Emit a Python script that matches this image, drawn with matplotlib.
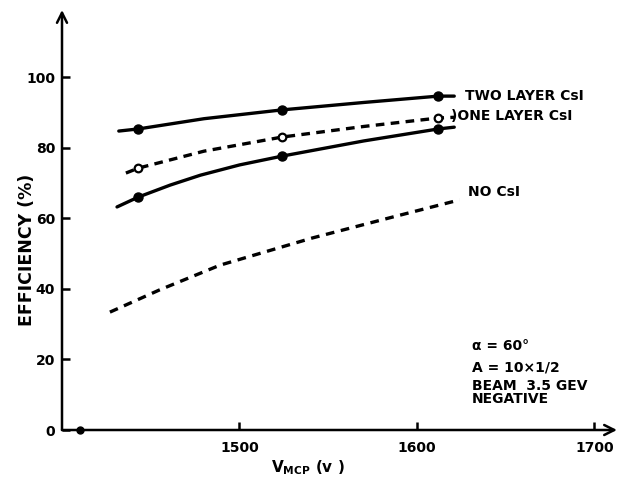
import matplotlib
matplotlib.use("Agg")
import matplotlib.pyplot as plt

# ---- data ----
two_layer_x = [1432, 1443, 1480, 1524, 1570, 1612, 1621]
two_layer_y = [84.7, 85.3, 88.2, 90.7, 92.8, 94.6, 94.6]
two_layer_pts_x = [1443, 1524, 1612]
two_layer_pts_y = [85.3, 90.7, 94.6]

one_layer_x = [1436, 1443, 1480, 1524, 1570, 1612, 1621]
one_layer_y = [72.8, 74.2, 79.0, 83.0, 86.0, 88.4, 88.6]
one_layer_pts_x = [1443, 1524, 1612]
one_layer_pts_y = [74.2, 83.0, 88.4]

third_x = [1431, 1443, 1461, 1478, 1500, 1524, 1570, 1612, 1621]
third_y = [63.2, 66.0, 69.4, 72.2, 75.1, 77.6, 81.9, 85.3, 85.8]
third_pts_x = [1443, 1524, 1612]
third_pts_y = [66.0, 77.6, 85.3]

no_csi_x = [1427, 1455, 1489, 1541, 1586, 1624]
no_csi_y = [33.4, 39.7, 46.7, 54.4, 60.3, 65.2]

x_ticks = [1500, 1600, 1700]
y_ticks = [0, 20, 40, 60, 80, 100]

FONT = dict(family="DejaVu Sans", weight="bold")

fig = plt.figure(figsize=(6.21, 4.83), dpi=100)
W, H = 621, 483
ax = fig.add_axes([62 / W, (H - 430) / H, (617 - 62) / W, (430 - 10) / H])
ax.set_xlim(1400, 1712.7)
ax.set_ylim(0, 119)
for s in ax.spines.values():
    s.set_visible(False)

# axes with arrows
ax.annotate("", xy=(1, 0), xytext=(0, 0), xycoords="axes fraction",
            arrowprops=dict(arrowstyle="->", lw=1.8, color="black",
                            mutation_scale=18, shrinkA=0, shrinkB=0))
ax.annotate("", xy=(0, 1), xytext=(0, 0), xycoords="axes fraction",
            arrowprops=dict(arrowstyle="->", lw=1.8, color="black",
                            mutation_scale=18, shrinkA=0, shrinkB=0))

ax.set_xticks(x_ticks)
ax.set_xticklabels([str(v) for v in x_ticks], fontsize=10, **FONT)
ax.set_yticks(y_ticks)
ax.set_yticklabels([str(v) for v in y_ticks], fontsize=10, **FONT)
ax.tick_params(axis="both", direction="in", length=6, width=1.8, color="black")
ax.tick_params(axis="x", pad=8)
ax.tick_params(axis="y", pad=5)

lw = 2.4
ax.plot(two_layer_x, two_layer_y, color="black", lw=lw, solid_capstyle="round")
ax.plot(two_layer_pts_x, two_layer_pts_y, "o", color="black", ms=6.5)

ax.plot(one_layer_x, one_layer_y, color="black", lw=lw, dashes=(2.6, 1.9))
ax.plot(one_layer_pts_x, one_layer_pts_y, "o", mfc="white", mec="black",
        mew=1.6, ms=5.5)

ax.plot(third_x, third_y, color="black", lw=lw, solid_capstyle="round")
ax.plot(third_pts_x, third_pts_y, "o", color="black", ms=6.5)

ax.plot(no_csi_x, no_csi_y, color="black", lw=lw, dashes=(2.6, 2.0))

# small blob on the x-axis near origin
ax.plot([1410], [0], "o", color="black", ms=5, clip_on=False)

# labels on curves
ax.text(1627, 94.6, "TWO LAYER CsI", fontsize=10, va="center", ha="left", **FONT)
ax.text(1619, 89.0, ")ONE LAYER CsI", fontsize=10, va="center", ha="left", **FONT)
ax.text(1629, 67.4, "NO CsI", fontsize=10, va="center", ha="left", **FONT)

# annotation block
ax.text(1631, 23.8, "α = 60°", fontsize=10, ha="left", va="center", **FONT)
ax.text(1631, 17.6, "A = 10×1/2", fontsize=10, ha="left", va="center", **FONT)
ax.text(1631, 10.6, "BEAM  3.5 GEV\nNEGATIVE", fontsize=10, ha="left",
        va="center", linespacing=0.9, **FONT)

ax.set_ylabel("EFFICIENCY (%)", fontsize=12.5, **FONT)
ax.yaxis.set_label_coords((36 - 62) / (617 - 62), (430 - 250) / 420)
ax.set_xlabel(r"V$_{\mathbf{MCP}}$ (v )", fontsize=11, **FONT)
ax.xaxis.set_label_coords((308 - 62) / (617 - 62), -(458 - 430) / 420)

fig.savefig("out.png", dpi=100)
